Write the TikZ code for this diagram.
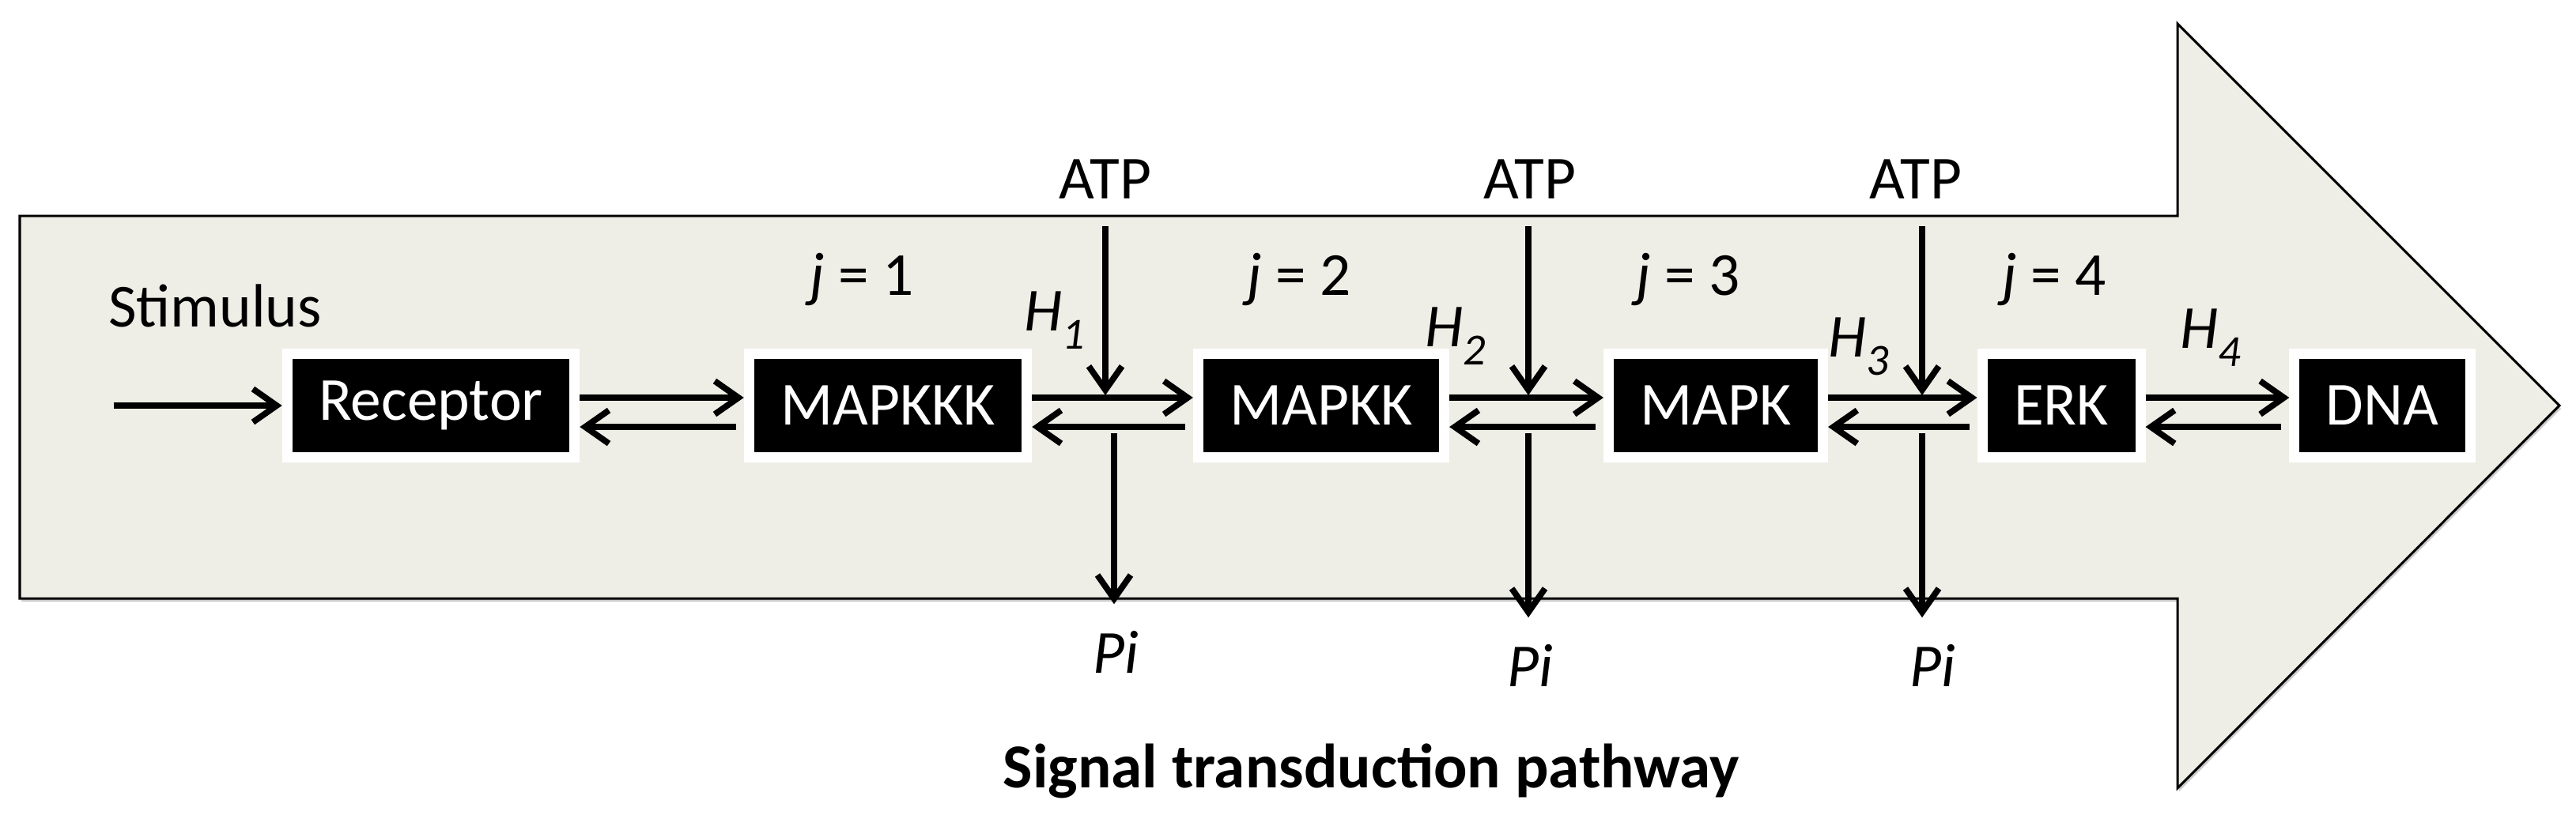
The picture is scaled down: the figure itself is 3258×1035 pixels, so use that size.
\documentclass[tikz,border=0pt]{standalone}
\usepackage{fontspec}
\setmainfont{Carlito}
\usetikzlibrary{shadows,arrows.meta}
\definecolor{pathbg}{RGB}{238,238,230}
\newcommand{\hsub}[1]{\textit{H}\raisebox{-0.3em}{\fontsize{16}{16}\selectfont\itshape #1}}

\begin{document}
\begin{tikzpicture}[x=0.01cm,y=-0.01cm,>={Straight Barb[length=0.3cm,width=0.42cm]}]
    \tikzstyle{kinase} = [fill=black,draw=white,line width=0.13cm,text=white,
        inner xsep=0.4cm,minimum height=1.31cm,font=\fontsize{22}{26}\selectfont,
        drop shadow={shadow xshift=0.02cm,shadow yshift=-0.05cm,opacity=0.3}]
    \tikzstyle{ann} = [font=\fontsize{22}{26}\selectfont,inner sep=1pt]
    \tikzstyle{flow} = [arrows=->,line width=2.2pt]
    \tikzstyle{upper} = [yshift=0.1cm]
    \tikzstyle{lower} = [yshift=-0.27cm]
    \useasboundingbox (0,0) rectangle (3258,1035);
    % pathway arrow
    \filldraw[fill=pathbg,draw=black,line width=0.03cm,
        drop shadow={shadow xshift=0.02cm,shadow yshift=-0.04cm,opacity=0.4}]
        (25,273)--(2754,273)--(2754,30)--(3237,513)--(2754,997)
        --(2754,757)--(25,757)--cycle;
    % kinases
    \node[kinase] (rec) at (545,513) {Receptor};
    \node[kinase] (mkkk) at (1123,513) {MAPKKK};
    \node[kinase] (mkk) at (1671,513) {MAPKK};
    \node[kinase] (mk) at (2170,513) {MAPK};
    \node[kinase] (erk) at (2607,513) {ERK};
    \node[kinase] (dna) at (3013,513) {DNA};
    % labels
    \node[ann] (stim) at (272,387) {Stimulus};
    \node[ann] (j1) at (1090,353) {\textit{j} = 1};
    \node[ann] (j2) at (1643,353) {\textit{j} = 2};
    \node[ann] (j3) at (2135,353) {\textit{j} = 3};
    \node[ann] (j4) at (2598,353) {\textit{j} = 4};
    \node[ann] (h1) at (1334,405) {\hsub{1}};
    \node[ann] (h2) at (1841,425) {\hsub{2}};
    \node[ann] (h3) at (2351,438) {\hsub{3}};
    \node[ann] (h4) at (2796,427) {\hsub{4}};
    \node[ann] (atp1) at (1398,227) {ATP};
    \node[ann] (atp2) at (1935,227) {ATP};
    \node[ann] (atp3) at (2423,227) {ATP};
    \node[ann] (pi1) at (1411,825) {\textit{Pi}};
    \node[ann] (pi2) at (1935,842) {\textit{Pi}};
    \node[ann] (pi3) at (2444,842) {\textit{Pi}};
    \node[ann,font=\fontsize{22.5}{26}\selectfont\bfseries] (title) at (1734,975)
        {Signal transduction pathway};
    \coordinate (src) at (144,513);
    \coordinate (in1) at (1398,500);
    \coordinate (in2) at (1933,500);
    \coordinate (in3) at (2431,500);
    \coordinate (out1) at (1409,548);
    \coordinate (out2) at (1933,548);
    \coordinate (out3) at (2431,548);
    % forward and backward steps
    \draw[flow] (src)--(rec);
    \draw[flow] ([upper]rec.east)--([upper]mkkk.west);
    \draw[flow,shorten <=0.1cm] ([lower]mkkk.west)--([lower]rec.east);
    \draw[flow] ([upper]mkkk.east)--([upper]mkk.west);
    \draw[flow,shorten <=0.1cm] ([lower]mkk.west)--([lower]mkkk.east);
    \draw[flow] ([upper]mkk.east)--([upper]mk.west);
    \draw[flow,shorten <=0.1cm] ([lower]mk.west)--([lower]mkk.east);
    \draw[flow] ([upper]mk.east)--([upper]erk.west);
    \draw[flow,shorten <=0.1cm] ([lower]erk.west)--([lower]mk.east);
    \draw[flow] ([upper]erk.east)--([upper]dna.west);
    \draw[flow,shorten <=0.1cm] ([lower]dna.west)--([lower]erk.east);
    % phosphorylation
    \draw[flow,shorten <=0.3cm] (atp1.south -| in1)--(in1);
    \draw[flow,shorten <=0.3cm] (atp2.south -| in2)--(in2);
    \draw[flow,shorten <=0.3cm] (atp3.south -| in3)--(in3);
    \draw[flow,shorten >=0.3cm] (out1)--(out1 |- pi1.north);
    \draw[flow,shorten >=0.3cm] (out2)--(out2 |- pi2.north);
    \draw[flow,shorten >=0.3cm] (out3)--(out3 |- pi3.north);
\end{tikzpicture}
\end{document}
